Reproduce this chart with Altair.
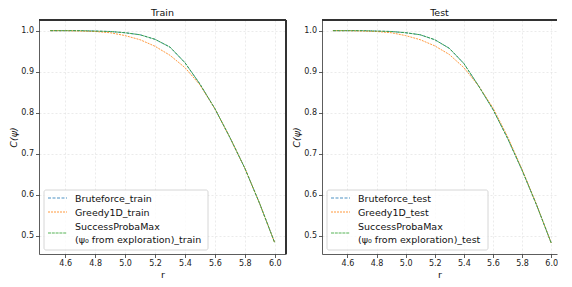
import altair as alt
import pandas as pd

r = [4.5, 4.6, 4.7, 4.8, 4.9, 5.0, 5.1, 5.2, 5.3, 5.4, 5.5, 5.6, 5.7, 5.8, 5.9, 6.0]

train_brute = [1.0, 1.0, 1.0, 0.999, 0.998, 0.995, 0.990, 0.979, 0.960, 0.922, 0.870, 0.810, 0.740, 0.665, 0.578, 0.483]
train_greedy = [1.0, 1.0, 0.999, 0.998, 0.995, 0.988, 0.978, 0.962, 0.940, 0.910, 0.868, 0.810, 0.740, 0.665, 0.578, 0.483]
train_spm = [1.0, 1.0, 1.0, 0.999, 0.998, 0.995, 0.990, 0.979, 0.960, 0.922, 0.870, 0.810, 0.740, 0.665, 0.578, 0.483]

test_brute = [1.0, 1.0, 1.0, 0.999, 0.998, 0.995, 0.990, 0.978, 0.957, 0.920, 0.866, 0.808, 0.738, 0.660, 0.575, 0.483]
test_greedy = [1.0, 1.0, 0.999, 0.998, 0.995, 0.988, 0.978, 0.963, 0.942, 0.910, 0.866, 0.812, 0.742, 0.662, 0.576, 0.483]
test_spm = [1.0, 1.0, 1.0, 0.999, 0.998, 0.995, 0.990, 0.978, 0.957, 0.920, 0.866, 0.808, 0.738, 0.660, 0.575, 0.483]

train_names = ["Bruteforce_train", "Greedy1D_train", "SuccessProbaMax\n(ψ₀ from exploration)_train"]
test_names = ["Bruteforce_test", "Greedy1D_test", "SuccessProbaMax\n(ψ₀ from exploration)_test"]

colors = ["#1f77b4", "#ff7f0e", "#2ca02c"]
dashes = [[3, 1.5], [2, 1], [3, 0.8]]

x_ticks = [4.6, 4.8, 5.0, 5.2, 5.4, 5.6, 5.8, 6.0]
y_ticks = [0.5, 0.6, 0.7, 0.8, 0.9, 1.0]

FONT = "DejaVu Sans"
H = 234


def long_df(names, series):
    rows = []
    for name, vals in zip(names, series):
        for rv, v in zip(r, vals):
            rows.append({"r": rv, "C": v, "series": name})
    return pd.DataFrame(rows)


def legend_layers(names, box_w):
    one = pd.DataFrame({"k": [0]})
    layers = [alt.Chart(one).mark_rect(
        fill="white", fillOpacity=0.8, stroke="#cccccc", strokeWidth=0.8, cornerRadius=2
    ).encode(x=alt.value(5), x2=alt.value(box_w), y=alt.value(H - 64), y2=alt.value(H - 4))]
    sym_y = [H - 56, H - 42, H - 21]
    for name, col, dash, yy in zip(names, colors, dashes, sym_y):
        layers.append(alt.Chart(one).mark_rule(
            color=col, strokeWidth=1, strokeDash=dash, opacity=0.8
        ).encode(x=alt.value(9), x2=alt.value(28), y=alt.value(yy)))
    text_lines = []
    for name in names:
        text_lines.extend(name.split("\n"))
    text_y = [H - 55, H - 41, H - 27.5, H - 14.5]
    for t, yy in zip(text_lines, text_y):
        layers.append(alt.Chart(one).mark_text(
            align="left", baseline="middle", font=FONT, fontSize=9.5, color="#111"
        ).encode(x=alt.value(36), y=alt.value(yy), text=alt.value(t)))
    return layers


def panel(title, names, series, width, xmax, right_spine, box_w):
    df = long_df(names, series)
    lines = alt.Chart(df).mark_line(strokeWidth=1, opacity=0.8).encode(
        x=alt.X("r:Q", scale=alt.Scale(domain=[4.425, xmax], nice=False, zero=False),
                axis=alt.Axis(values=x_ticks, format=".1f", title="r")),
        y=alt.Y("C:Q", scale=alt.Scale(domain=[0.456, 1.026], nice=False, zero=False),
                axis=alt.Axis(values=y_ticks, format=".1f", title="C(ψ)",
                              titleFontStyle="italic")),
        color=alt.Color("series:N", scale=alt.Scale(domain=names, range=colors), legend=None),
        strokeDash=alt.StrokeDash("series:N", scale=alt.Scale(domain=names, range=dashes),
                                  legend=None),
    )
    top = alt.Chart(df).mark_rule(color="#333", strokeWidth=0.8).encode(
        x=alt.value(0), x2=alt.value("width"), y=alt.value(0))
    layers = [lines, top]
    if right_spine:
        layers.append(alt.Chart(df).mark_rule(color="#333", strokeWidth=0.8).encode(
            x=alt.value("width"), y=alt.value(0), y2=alt.value("height")))
    layers += legend_layers(names, box_w)
    return alt.layer(*layers).properties(
        width=width, height=H,
        title=alt.TitleParams(title, fontSize=9.5, font=FONT, fontWeight="normal",
                              color="#111", offset=2))


left = panel("Train", train_names, [train_brute, train_greedy, train_spm], 247, 6.075, True, 169)
right = panel("Test", test_names, [test_brute, test_greedy, test_spm], 235, 6.04, False, 166)

chart = alt.hconcat(left, right, spacing=4).resolve_scale(
    color="independent", strokeDash="independent"
).properties(
    padding={"left": 0, "top": 0, "right": 0, "bottom": 0}
).configure_view(stroke=None).configure_axis(
    labelFont=FONT, titleFont=FONT, labelFontSize=8, titleFontSize=9.5,
    labelColor="#222", titleColor="#111", domainColor="#333", domainWidth=0.8,
    tickColor="#333", tickSize=3.5, tickWidth=0.8, labelPadding=2, titlePadding=2,
    grid=True, gridColor="#dddddd", gridDash=[2, 2], gridWidth=0.6,
    titleFontWeight="normal",
)

chart.save("out.html", embed_options={"renderer": "svg", "actions": False})
